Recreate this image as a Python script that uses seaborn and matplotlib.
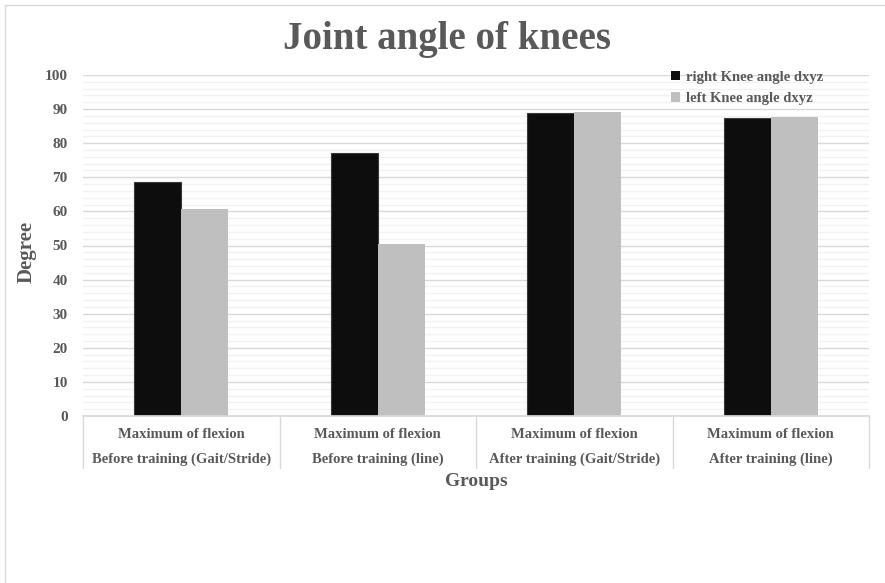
import matplotlib
matplotlib.use("Agg")
import matplotlib.pyplot as plt
import seaborn as sns
import pandas as pd
from matplotlib.ticker import MultipleLocator
from matplotlib.patches import Rectangle, Patch

# chart data
groups = ["Before training (Gait/Stride)", "Before training (line)",
          "After training (Gait/Stride)", "After training (line)"]
outer_label = "Maximum of flexion"
series = ["right Knee angle dxyz", "left Knee angle dxyz"]
right_knee = [68.5, 77.1, 88.9, 87.4]
left_knee = [60.7, 50.4, 89.2, 87.7]
colors = ["#0D0D0D", "#BFBFBF"]

df = pd.DataFrame({
    "group": groups * 2,
    "series": [series[0]] * 4 + [series[1]] * 4,
    "value": right_knee + left_knee,
})

sns.set_theme(style="white")
plt.rcParams["font.family"] = ["Liberation Serif", "DejaVu Serif"]
plt.rcParams["font.weight"] = "bold"
txt = "#595959"

fig = plt.figure(figsize=(8.85, 5.83), dpi=100)
W, H = 885, 583
ax = fig.add_axes([83 / W, 1 - 416 / H, (869 - 83) / W, (416 - 75) / H])

sns.barplot(data=df, x="group", y="value", hue="series", order=groups,
            hue_order=series, palette=colors, width=0.48, gap=0,
            saturation=1, linewidth=0, ax=ax, legend=False)
for p in ax.patches[:4]:
    p.set_edgecolor("#3A3A3A")
    p.set_linewidth(0.8)

ax.set_ylim(0, 100)
ax.set_xlim(-0.5, len(groups) - 0.5)
ax.yaxis.set_major_locator(MultipleLocator(10))
ax.yaxis.set_minor_locator(MultipleLocator(2))
ax.grid(axis="y", which="major", color="#D9D9D9", linewidth=1)
ax.grid(axis="y", which="minor", color="#F2F2F2", linewidth=1)
ax.set_axisbelow(True)
for s in ["top", "right", "left"]:
    ax.spines[s].set_visible(False)
ax.spines["bottom"].set_color("#D9D9D9")
ax.tick_params(axis="y", which="both", length=0, pad=11, labelsize=11, labelcolor=txt)
ax.tick_params(axis="x", length=0)
ax.set_xticklabels([])

# two-level category axis, Excel style
xt = ax.get_xaxis_transform()
for i in range(len(groups) + 1):
    ax.plot([i - 0.5, i - 0.5], [0, -52 / 341], transform=xt, color="#D9D9D9",
            linewidth=1, clip_on=False)
for i, g in enumerate(groups):
    ax.text(i, -18 / 341, outer_label, transform=xt, ha="center", va="center",
            fontsize=10.5, color=txt, fontweight="bold")
    ax.text(i, -43 / 341, g, transform=xt, ha="center", va="center",
            fontsize=10.5, color=txt, fontweight="bold")

ax.set_xlabel("Groups", fontsize=14, color=txt, fontweight="bold")
ax.xaxis.set_label_coords(0.5, -66 / 341)
ax.xaxis.label.set_va("center")
ax.set_ylabel("Degree", fontsize=15, color=txt, fontweight="bold")
ax.yaxis.set_label_coords(-56 / 786, 0.48)
ax.yaxis.label.set_va("center")

fig.text(447.5 / W, 1 - 40 / H, "Joint angle of knees", ha="center", va="center",
         fontsize=28, color=txt, fontweight="bold")

handles = [Patch(facecolor=c, edgecolor="none") for c in colors]
ax.legend(handles, series, loc="upper left", bbox_to_anchor=(671 / W, 1 - 71 / H),
          bbox_transform=fig.transFigure, frameon=False, fontsize=10.5,
          labelcolor=txt, handlelength=0.6, handleheight=0.6, handletextpad=0.4,
          labelspacing=0.55, borderpad=0, borderaxespad=0)

fig.add_artist(Rectangle((5 / W, -0.1), 1.2, 1.1 - 5 / H, transform=fig.transFigure,
                         fill=False, edgecolor="#D9D9D9", linewidth=1))

fig.savefig("out.png", dpi=100)
